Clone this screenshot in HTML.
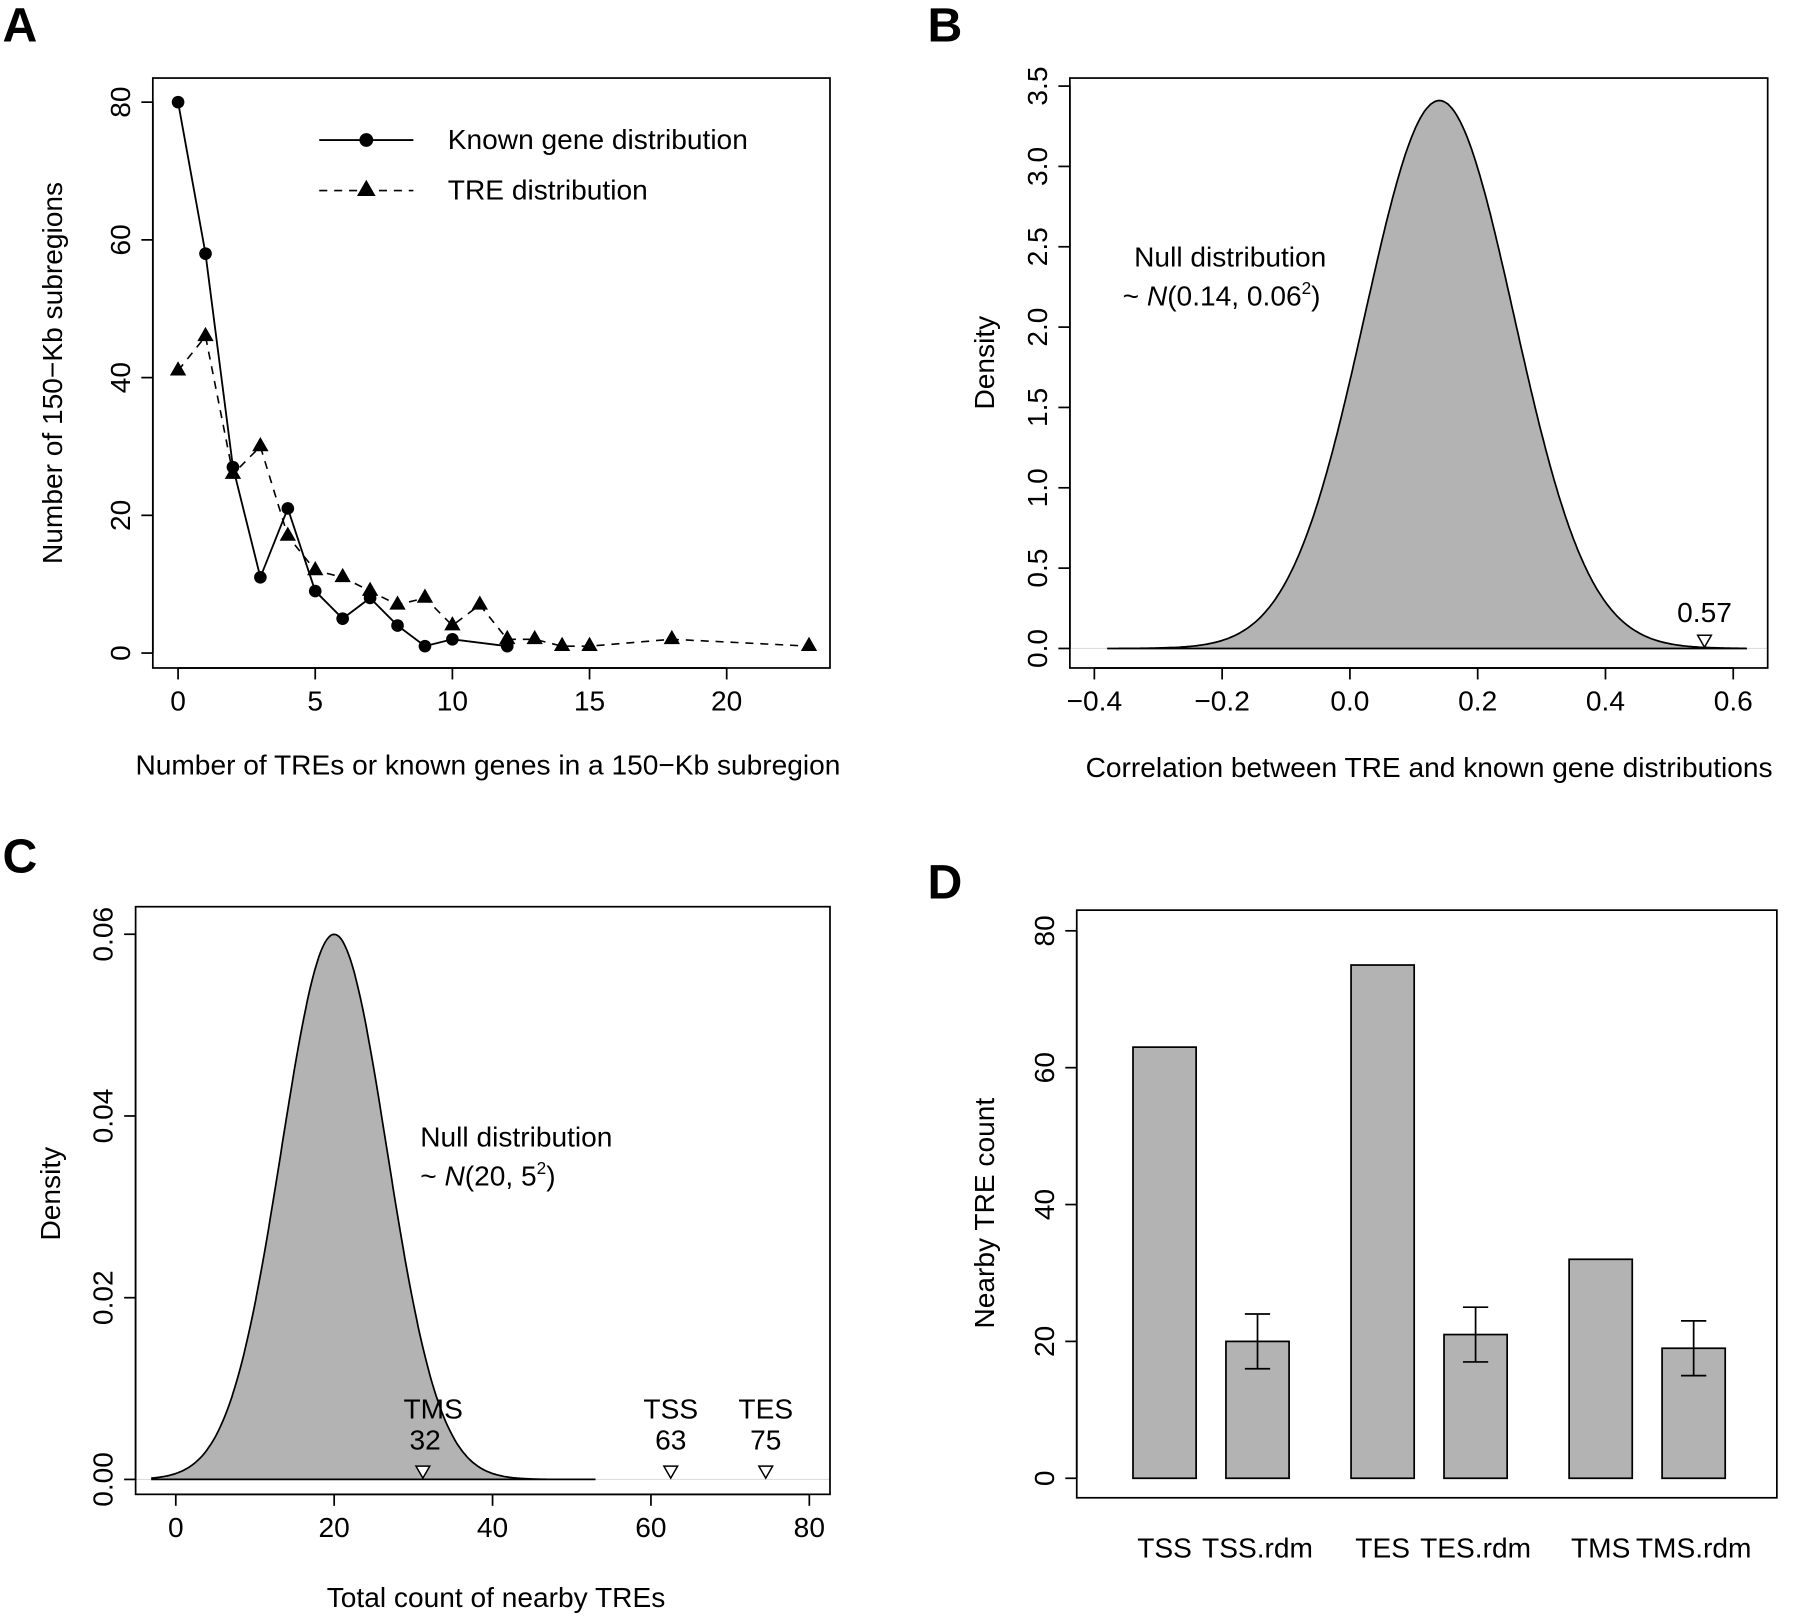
<!DOCTYPE html>
<html><head><meta charset="utf-8"><style>
html,body{margin:0;padding:0;background:#fff}
svg{display:block}
text{font-family:"Liberation Sans",Helvetica,sans-serif;fill:#000}
</style></head><body>
<svg id="fig" width="1800" height="1616" viewBox="0 0 1568 1408" xmlns="http://www.w3.org/2000/svg">
<g font-size="24.5">
<text x="2" y="36" font-size="42" font-weight="bold">A</text>
<text x="808" y="36" font-size="42" font-weight="bold">B</text>
<text x="2" y="760" font-size="42" font-weight="bold">C</text>
<text x="808" y="783" font-size="42" font-weight="bold">D</text>
<g id="pa"></g>
<g id="pb"></g>
<g id="pc"></g>
<g id="pd"></g>
</g>
</svg>
<script>
// Panel A data
const aGeneX=[0,1,2,3,4,5,6,7,8,9,10,12];
const aGeneY=[80,58,27,11,21,9,5,8,4,1,2,1];
const aTreX=[0,1,2,3,4,5,6,7,8,9,10,11,12,13,14,15,18,23];
const aTreY=[41,46,26,30,17,12,11,9,7,8,4,7,2,2,1,1,2,1];
const aXTicks=[0,5,10,15,20];
const aYTicks=[0,20,40,60,80];
// Panel B data
const bMean=0.14, bSd=0.117, bRange=[-0.38,0.62];
const bObs=[0.555];
const bObsLabels=["0.57"];
const bXTicks=[-0.4,-0.2,0.0,0.2,0.4,0.6];
const bYTicks=[0,0.5,1,1.5,2,2.5,3,3.5];
// Panel C data
const cMean=20, cSd=6.65, cRange=[-3,53];
const cObsNames=["TMS","TSS","TES"];
const cObsVals=[31.2,62.5,74.5];
const cObsLabels=["32","63","75"];
const cXTicks=[0,20,40,60,80];
const cYTicks=[0,0.02,0.04,0.06];
// Panel D data
const dCats=["TSS","TSS.rdm","TES","TES.rdm","TMS","TMS.rdm"];
const dVals=[63,20,75,21,32,19];
const dErr=[null,4,null,4,null,4];
const dYTicks=[0,20,40,60,80];

const NS="http://www.w3.org/2000/svg";
function mk(p,tag,at,txt){const e=document.createElementNS(NS,tag);for(const k in at)e.setAttribute(k,at[k]);if(txt!==undefined)e.textContent=txt;p.appendChild(e);return e;}
function lin(d0,d1,r0,r1){return v=>r0+(v-d0)*(r1-r0)/(d1-d0);}
function box(g,x0,y0,x1,y1){const e=mk(g,"rect",{x:x0,y:y0,width:x1-x0,height:y1-y0,fill:"none",stroke:"#000","stroke-width":1.5});

}
function xaxis(g,ticks,sx,y,fmt,xl,xlx,xly){
 mk(g,"line",{x1:sx(ticks[0]),x2:sx(ticks[ticks.length-1]),y1:y,y2:y,stroke:"#000","stroke-width":1.5});
 ticks.forEach(t=>{mk(g,"line",{x1:sx(t),x2:sx(t),y1:y,y2:y+10,stroke:"#000","stroke-width":1.5});
 const e=mk(g,"text",{x:sx(t),y:y+37,"text-anchor":"middle"},fmt(t));
 
 });
 const t=mk(g,"text",{x:xlx,y:xly,"text-anchor":"middle"},xl);
 
 }
function yaxis(g,ticks,sy,x,fmt,yl,ylx,yly){
 mk(g,"line",{x1:x,x2:x,y1:sy(ticks[0]),y2:sy(ticks[ticks.length-1]),stroke:"#000","stroke-width":1.5});
 ticks.forEach(t=>{mk(g,"line",{x1:x-10,x2:x,y1:sy(t),y2:sy(t),stroke:"#000","stroke-width":1.5});
 const e=mk(g,"text",{x:x-20,y:sy(t),"text-anchor":"middle",transform:`rotate(-90 ${x-20} ${sy(t)})`},fmt(t));
 
 });
 const t=mk(g,"text",{x:ylx,y:yly,"text-anchor":"middle",transform:`rotate(-90 ${ylx} ${yly})`},yl);
 
 }
function tri(g,x,y,s,up,fill){const h=s*0.87;const pts=up?`${x},${y-h*0.66} ${x-s/2},${y+h*0.34} ${x+s/2},${y+h*0.34}`:`${x},${y+h*0.66} ${x-s/2},${y-h*0.34} ${x+s/2},${y-h*0.34}`;
 return mk(g,"polygon",{points:pts,fill:fill,stroke:"#000","stroke-width":1.3});}

// Panel A
(function(){const g=document.getElementById("pa");
 const sx=lin(0,20,155,633), sy=lin(0,80,569,89);
 box(g,133,68,723,582);
 xaxis(g,aXTicks,sx,582,t=>t,"Number of TREs or known genes in a 150\u2212Kb subregion",425,675);
 yaxis(g,aYTicks,sy,133,t=>t,"Number of 150\u2212Kb subregions",54,325);
 const tl=mk(g,"polyline",{points:aTreX.map((x,i)=>sx(x)+","+sy(aTreY[i])).join(" "),fill:"none",stroke:"#000","stroke-width":1.4,"stroke-dasharray":"7,6"});
 
 
 const gl=mk(g,"polyline",{points:aGeneX.map((x,i)=>sx(x)+","+sy(aGeneY[i])).join(" "),fill:"none",stroke:"#000","stroke-width":1.6});
 
 
 aTreX.forEach((x,i)=>{const e=tri(g,sx(x),sy(aTreY[i]),12,true,"#000");
 
 });
 aGeneX.forEach((x,i)=>{const e=mk(g,"circle",{cx:sx(x),cy:sy(aGeneY[i]),r:5.5,fill:"#000"});
 
 });
 mk(g,"line",{x1:278,x2:360,y1:122,y2:122,stroke:"#000","stroke-width":1.6});
 mk(g,"circle",{cx:319,cy:122,r:6,fill:"#000"});
 const l1=mk(g,"text",{x:390,y:130},"Known gene distribution");
 
 
 mk(g,"line",{x1:278,x2:360,y1:166,y2:166,stroke:"#000","stroke-width":1.4,"stroke-dasharray":"7,6"});
 tri(g,319,166,14,true,"#000");
 const l2=mk(g,"text",{x:390,y:174},"TRE distribution");
 
 
})();

function density(g,sx,sy,m,s,r0,r1,name){
 const pdf=x=>Math.exp(-0.5*((x-m)/s)**2)/(s*Math.sqrt(2*Math.PI));
 let pts=[];for(let i=0;i<=300;i++){const x=r0+(r1-r0)*i/300;pts.push(sx(x).toFixed(1)+","+sy(pdf(x)).toFixed(1));}
 const p=mk(g,"polygon",{points:pts.join(" ")+` ${sx(r1)},${sy(0)} ${sx(r0)},${sy(0)}`,fill:"#b3b3b3",stroke:"#000","stroke-width":1.5});
 
 }

// Panel B
(function(){const g=document.getElementById("pb");
 const sx=lin(0,0.6,1176,1510), sy=lin(0,3.5,565,75);
 mk(g,"line",{x1:932,x2:1540,y1:sy(0),y2:sy(0),stroke:"#ddd","stroke-width":1});
 density(g,sx,sy,bMean,bSd,bRange[0],bRange[1],"null-density-curve");
 box(g,932,68,1540,582);
 xaxis(g,bXTicks,sx,582,t=>t===0?"0.0":(t<0?"\u2212":"")+Math.abs(t).toFixed(1),"Correlation between TRE and known gene distributions",1245,677);
 yaxis(g,bYTicks,sy,932,t=>t.toFixed(1),"Density",866,316);
 bObs.forEach((v,i)=>{const e=tri(g,sx(v),sy(0)-8,12,false,"#fff");
 
 
 const t=mk(g,"text",{x:sx(v),y:sy(0)-23,"text-anchor":"middle"},bObsLabels[i]);
 
 });
 const a=mk(g,"text",{x:988,y:232},"Null distribution");
 
 
 const b=mk(g,"text",{x:978,y:266});b.innerHTML='~ <tspan font-style="italic">N</tspan>(0.14, 0.06<tspan font-size="15" dy="-10">2</tspan><tspan dy="10">)</tspan>';
 
 
})();

// Panel C
(function(){const g=document.getElementById("pc");
 const sx=lin(0,80,153,705), sy=lin(0,0.06,1289,814);
 mk(g,"line",{x1:118,x2:723,y1:sy(0),y2:sy(0),stroke:"#ddd","stroke-width":1});
 density(g,sx,sy,cMean,cSd,cRange[0],cRange[1],"null-density-curve");
 box(g,118,790,723,1302);
 xaxis(g,cXTicks,sx,1302,t=>t,"Total count of nearby TREs",432,1400);
 yaxis(g,cYTicks,sy,118,t=>t.toFixed(2),"Density",52,1040);
 cObsVals.forEach((v,i)=>{const e=tri(g,sx(v),sy(0)-8,12,false,"#fff");
 
 
 const t=mk(g,"text",{x:sx(v)+(i===0?9:0),y:1236,"text-anchor":"middle"},cObsNames[i]);
 
 
 const t2=mk(g,"text",{x:sx(v)+(i===0?2:0),y:1263,"text-anchor":"middle"},cObsLabels[i]);
 
 });
 const a=mk(g,"text",{x:366,y:999},"Null distribution");
 
 
 const b=mk(g,"text",{x:366,y:1033});b.innerHTML='~ <tspan font-style="italic">N</tspan>(20, 5<tspan font-size="15" dy="-10">2</tspan><tspan dy="10">)</tspan>';
 
 
})();

// Panel D
(function(){const g=document.getElementById("pd");
 const sy=lin(0,80,1288,811);
 const left=[987,1068,1177,1258,1367,1448], bw=55;
 box(g,938,793,1548,1305);
 yaxis(g,dYTicks,sy,938,t=>t,"Nearby TRE count",866,1057);
 dCats.forEach((c,i)=>{const r=mk(g,"rect",{x:left[i],y:sy(dVals[i]),width:bw,height:sy(0)-sy(dVals[i]),fill:"#b3b3b3",stroke:"#000","stroke-width":1.5});
 
 
 if(dErr[i]!==null){const cx=left[i]+bw/2,lo=sy(dVals[i]-dErr[i]),hi=sy(dVals[i]+dErr[i]);
 const eb=mk(g,"path",{d:`M${cx},${lo}V${hi}M${cx-11},${lo}H${cx+11}M${cx-11},${hi}H${cx+11}`,stroke:"#000","stroke-width":1.5,fill:"none"});
 
 }
 const t=mk(g,"text",{x:left[i]+bw/2,y:1357,"text-anchor":"middle"},c);
 
 });
})();
</script>
</body></html>
